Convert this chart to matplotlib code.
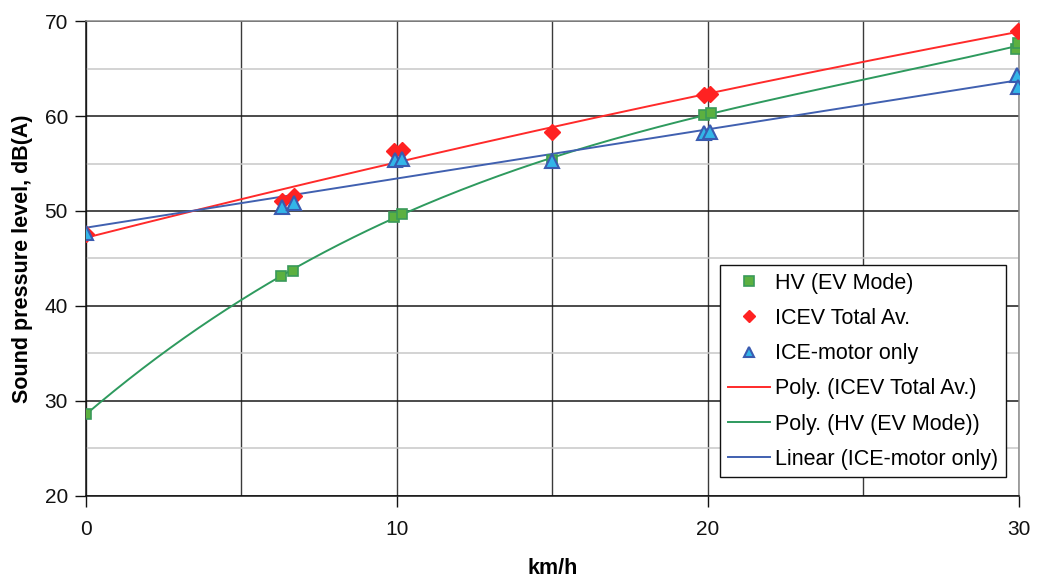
import matplotlib.pyplot as plt
import numpy as np
from matplotlib.ticker import MultipleLocator

plt.rcParams['font.family'] = ['Liberation Sans', 'DejaVu Sans']

hv_x = [0, 6.27, 6.66, 9.9, 10.15, 15.0, 19.87, 20.1, 29.92, 29.98]
hv_y = [28.6, 43.2, 43.7, 49.4, 49.7, 55.4, 60.1, 60.3, 67.05, 67.7]

icev_x = [0, 6.3, 6.7, 9.9, 10.15, 15.0, 19.87, 20.05, 29.98]
icev_y = [47.6, 51.1, 51.6, 56.3, 56.4, 58.3, 62.2, 62.3, 68.9]

ice_x = [0, 6.3, 6.7, 9.95, 10.15, 15.0, 19.87, 20.05, 29.95, 29.98]
ice_y = [47.7, 50.45, 50.8, 55.4, 55.5, 55.3, 58.2, 58.3, 64.3, 63.1]

# ── Trendlines, fitted like Excel does ──
xs = np.linspace(0, 30, 200)
red_fit = np.polyval(np.polyfit(icev_x, icev_y, 2), xs)
green_fit = np.polyval(np.polyfit(hv_x, hv_y, 3), xs)
blue_fit = np.polyval(np.polyfit(ice_x, ice_y, 1), xs)

fig = plt.figure(figsize=(10.37, 5.79), dpi=100)
ax = fig.add_axes([0.0829, 0.1434, 0.8997, 0.8203])

# grid
ax.xaxis.set_major_locator(MultipleLocator(10))
ax.xaxis.set_minor_locator(MultipleLocator(5))
ax.yaxis.set_major_locator(MultipleLocator(10))
ax.yaxis.set_minor_locator(MultipleLocator(5))
ax.grid(True, which="major", axis="y", color="#1a1a1a", linewidth=1.1)
ax.grid(True, which="minor", axis="y", color="#c8c8c8", linewidth=1.1)
ax.grid(True, which="both", axis="x", color="#3a3a3a", linewidth=1.0)
ax.set_axisbelow(True)

h1, = ax.plot(hv_x, hv_y, "s", ms=7.5, mfc="#5cb040", mec="#3a9a5a", mew=1.2,
              label="HV (EV Mode)", zorder=4)
h2, = ax.plot(icev_x, icev_y, "D", ms=8.5, mfc="#ff2222", mec="#ff2222", mew=1,
              label="ICEV Total Av.", zorder=4)
h3, = ax.plot(ice_x, ice_y, "^", ms=10, mfc="#33b5e8", mec="#3a5bb0", mew=1.5,
              label="ICE-motor only", zorder=4)
l1, = ax.plot(xs, red_fit, color="#ff2a2a", lw=1.4, label="Poly. (ICEV Total Av.)", zorder=3)
l2, = ax.plot(xs, green_fit, color="#2e9a5e", lw=1.4, label="Poly. (HV (EV Mode))", zorder=3)
l3, = ax.plot(xs, blue_fit, color="#4060b0", lw=1.4, label="Linear (ICE-motor only)", zorder=3)

ax.set_xlim(0, 30)
ax.set_ylim(20, 70)
ax.set_xticks([0, 10, 20, 30])
ax.set_yticks([20, 30, 40, 50, 60, 70])
ax.tick_params(which="major", direction="out", length=8, width=1, labelsize=15, colors="#111111")
ax.tick_params(which="minor", length=0)
ax.tick_params(axis="x", pad=9)
ax.tick_params(axis="y", pad=5)

for side in ["left", "bottom"]:
    ax.spines[side].set_color("#111111")
    ax.spines[side].set_linewidth(1.1)
for side in ["top", "right"]:
    ax.spines[side].set_color("#8a8a8a")
    ax.spines[side].set_linewidth(1.1)

ax.set_ylabel("Sound pressure level, dB(A)", fontsize=15.5, fontweight="bold", labelpad=8)
ax.set_xlabel("km/h", fontsize=15.5, fontweight="bold", labelpad=14)

leg = ax.legend(handles=[h1, h2, h3, l1, l2, l3], loc="upper left",
                bbox_to_anchor=(0.68, 0.486), fontsize=15.5, frameon=True,
                fancybox=False, edgecolor="#111111", framealpha=1,
                handlelength=1.95, handletextpad=0.23, labelspacing=0.66,
                borderpad=0.35, borderaxespad=0)
leg.get_frame().set_linewidth(1.0)
for h in leg.legend_handles[:3]:
    h.set_markersize(6.5)

fig.savefig("out.png", dpi=100)
